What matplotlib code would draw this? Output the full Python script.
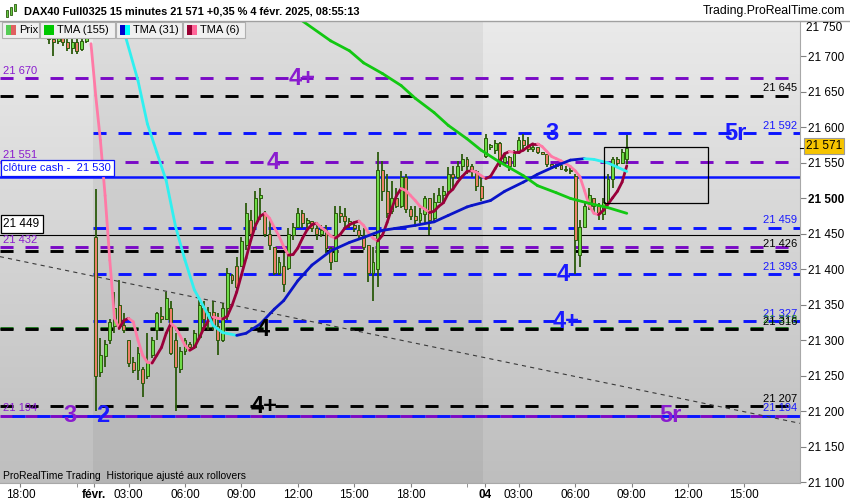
import numpy as np
import matplotlib.pyplot as plt
from matplotlib.collections import LineCollection
from matplotlib.patches import Rectangle
from matplotlib.lines import Line2D

plt.rcParams['font.family'] = ['Liberation Sans', 'DejaVu Sans']
plt.rcParams['lines.scale_dashes'] = False

# DAX40 Full0325, bougies 15 minutes, barre 0 = ven. 31/01 18:00
jan31_open = [21760, 21755, 21750, 21745, 21740, 21735, 21730, 21725, 21722, 21730, 21720, 21712, 21720, 21710, 21722, 21730]
jan31_high = [21770, 21765, 21760, 21758, 21752, 21748, 21742, 21735, 21738, 21740, 21732, 21730, 21728, 21735, 21745, 21748]
jan31_low = [21748, 21745, 21738, 21735, 21730, 21728, 21718, 21701, 21717, 21715, 21708, 21704, 21704, 21708, 21719, 21728]
jan31_close = [21755, 21750, 21745, 21740, 21735, 21730, 21725, 21720, 21728, 21720, 21712, 21720, 21708, 21722, 21730, 21735]

feb03_open = [21445, 21255, 21278, 21300, 21320, 21350, 21322, 21300, 21270, 21258, 21260, 21250, 21280, 21314, 21335, 21330,
              21345, 21300, 21260, 21285, 21295, 21290, 21305, 21345, 21330, 21340, 21320, 21300, 21345, 21392, 21405, 21405,
              21435, 21470, 21465, 21500, 21478, 21450, 21431, 21395, 21405, 21402, 21448, 21460, 21480, 21465, 21468, 21458,
              21450, 21455, 21430, 21412, 21480, 21475, 21468, 21462, 21456, 21448, 21434, 21395, 21400, 21540, 21510, 21482,
              21500, 21490, 21530, 21485, 21475, 21470, 21478, 21500, 21472, 21495, 21505, 21510, 21535, 21530, 21545, 21555,
              21545, 21538, 21518]
feb03_high = [21513, 21304, 21300, 21330, 21368, 21385, 21338, 21300, 21276, 21290, 21262, 21310, 21305, 21340, 21347, 21368,
              21356, 21310, 21290, 21304, 21298, 21314, 21357, 21356, 21347, 21356, 21338, 21352, 21402, 21394, 21417, 21445,
              21494, 21483, 21511, 21514, 21482, 21469, 21431, 21417, 21423, 21458, 21466, 21486, 21483, 21473, 21468, 21465,
              21462, 21462, 21432, 21490, 21490, 21486, 21472, 21466, 21462, 21458, 21434, 21431, 21565, 21553, 21535, 21525,
              21515, 21539, 21535, 21490, 21490, 21487, 21504, 21500, 21507, 21514, 21518, 21544, 21546, 21553, 21563, 21558,
              21549, 21540, 21530]
feb03_low = [21200, 21248, 21262, 21295, 21311, 21314, 21310, 21262, 21254, 21244, 21220, 21246, 21275, 21300, 21325, 21328,
             21280, 21200, 21254, 21280, 21285, 21288, 21300, 21318, 21314, 21314, 21279, 21298, 21328, 21380, 21371, 21403,
             21427, 21445, 21455, 21469, 21445, 21427, 21392, 21392, 21368, 21399, 21441, 21458, 21459, 21458, 21452, 21441,
             21445, 21423, 21399, 21410, 21465, 21458, 21459, 21452, 21441, 21427, 21382, 21356, 21375, 21497, 21473, 21478,
             21487, 21487, 21479, 21469, 21462, 21465, 21465, 21448, 21468, 21493, 21494, 21508, 21515, 21528, 21539, 21535,
             21530, 21511, 21497]
feb03_close = [21250, 21280, 21295, 21326, 21345, 21320, 21315, 21268, 21258, 21282, 21240, 21270, 21300, 21338, 21330, 21360,
               21282, 21262, 21285, 21300, 21290, 21310, 21350, 21330, 21340, 21320, 21300, 21345, 21395, 21385, 21375, 21440,
               21480, 21450, 21500, 21505, 21450, 21435, 21395, 21410, 21380, 21450, 21460, 21480, 21465, 21470, 21458, 21450,
               21455, 21430, 21410, 21480, 21475, 21468, 21465, 21458, 21448, 21432, 21395, 21410, 21540, 21510, 21480, 21500,
               21490, 21530, 21485, 21475, 21470, 21480, 21500, 21470, 21495, 21505, 21510, 21535, 21530, 21545, 21555, 21545,
               21538, 21518, 21500]

feb04_open = [21560, 21572, 21568, 21578, 21552, 21558, 21546, 21565, 21582, 21575, 21570, 21572, 21566, 21563, 21548, 21545,
              21547, 21542, 21540, 21532, 21420, 21460, 21490, 21500, 21490, 21478, 21495, 21528, 21555, 21550, 21555]
feb04_high = [21591, 21577, 21582, 21580, 21563, 21560, 21568, 21587, 21591, 21587, 21577, 21572, 21566, 21563, 21549, 21549,
              21549, 21546, 21544, 21534, 21469, 21497, 21515, 21501, 21493, 21501, 21535, 21558, 21558, 21570, 21589]
feb04_low = [21557, 21568, 21563, 21544, 21549, 21539, 21546, 21563, 21570, 21566, 21566, 21563, 21563, 21544, 21542, 21542,
             21540, 21537, 21535, 21394, 21403, 21459, 21483, 21479, 21469, 21469, 21493, 21515, 21544, 21549, 21549]
feb04_close = [21585, 21575, 21578, 21550, 21558, 21545, 21565, 21582, 21575, 21570, 21572, 21566, 21563, 21548, 21545, 21547,
               21542, 21540, 21538, 21441, 21460, 21490, 21505, 21490, 21480, 21495, 21528, 21555, 21550, 21565, 21571]

# moyennes triangulaires
tma6_first_bar = 15
tma6_vals = [21718, 21645, 21582, 21504, 21413, 21331, 21317, 21328, 21331, 21326, 21300, 21279, 21269, 21268, 21279, 21290,
             21310, 21324, 21318, 21306, 21293, 21286, 21290, 21303, 21317, 21328, 21333, 21331, 21330, 21334, 21349, 21368,
             21392, 21416, 21441, 21462, 21475, 21479, 21472, 21459, 21447, 21432, 21420, 21421, 21430, 21444, 21456, 21463,
             21465, 21459, 21454, 21447, 21444, 21449, 21458, 21463, 21466, 21468, 21462, 21452, 21444, 21440, 21448, 21466,
             21486, 21504, 21514, 21511, 21504, 21497, 21489, 21485, 21480, 21482, 21489, 21494, 21507, 21513, 21523, 21531,
             21538, 21539, 21537, 21532, 21528, 21531, 21542, 21553, 21563, 21566, 21565, 21565, 21568, 21573, 21577, 21577,
             21573, 21566, 21559, 21556, 21553, 21549, 21545, 21539, 21531, 21511, 21490, 21479, 21477, 21483, 21492, 21501,
             21510, 21523, 21546]
tma31_bars = [21, 22, 25, 27, 29, 31, 33, 35, 37, 38, 40, 41, 43, 46, 48, 51, 54, 56, 59, 62, 66, 70, 73, 77, 81, 84, 88,
              91, 95, 96, 100, 103, 107, 110, 114, 117, 120, 122, 125, 127, 129]
tma31_vals = [21750, 21736, 21666, 21605, 21565, 21525, 21460, 21413, 21371, 21359, 21335, 21321, 21311, 21307, 21310, 21323,
              21344, 21356, 21384, 21406, 21426, 21438, 21445, 21455, 21459, 21462, 21467, 21476, 21488, 21490, 21497, 21510,
              21523, 21534, 21546, 21554, 21556, 21555, 21550, 21544, 21538]
tma155_bars = [60, 66, 70, 73, 77, 81, 84, 88, 91, 95, 98, 102, 107, 110, 114, 117, 121, 125, 129]
tma155_vals = [21750, 21722, 21708, 21691, 21676, 21659, 21641, 21621, 21603, 21584, 21568, 21551, 21532, 21518, 21508,
               21500, 21493, 21487, 21479]

# niveaux horizontaux
levels = [21670, 21645, 21592, 21551, 21459, 21432, 21426, 21393, 21327, 21318, 21316, 21207, 21194, 21194]
level_kind = ['v', 'k', 'b', 'v', 'b', 'v', 'k', 'b', 'b', 'g', 'k', 'k', 'v', 'b']
cash_close = 21530
day_ref = 21449
last_price = 21571

# vagues
wave_bars = [59.9, 53.7, 113, 152.2, 115.4, 116, 51.6, 51.8, 10.5, 17.6, 138.2]
wave_levels = [21670, 21551, 21592, 21592, 21393, 21327, 21316, 21207, 21194, 21194, 21194]
wave_text = ['4+', '4', '3', '5r', '4', '4+', '4', '4+', '3', '2', '5r']
wave_kind = ['v', 'v', 'b', 'b', 'b', 'b', 'k', 'k', 'v', 'b', 'v']

trend_bars = [-4.4, 165.9]
trend_prices = [21418, 21183]
box_bars = [124.1, 146.3]
box_prices = [21493, 21573]

tick_bars = [0, 15.7, 23, 35, 47, 59, 71, 83, 98.8, 106, 118, 130, 142, 154]
tick_text = ['18:00', 'févr.', '03:00', '06:00', '09:00', '12:00', '15:00', '18:00', '04', '03:00', '06:00', '09:00', '12:00', '15:00']
minor_bars = [12, 95]

colors = {'v': '#7a0ac6', 'k': '#000000', 'b': '#0a14ff', 'g': '#1f7a1f'}
label_colors = {'v': '#8a1ccf', 'k': '#000000', 'b': '#1a1aff', 'g': '#1f8a1f'}

opens = np.array(jan31_open + feb03_open + feb04_open, float)
highs = np.array(jan31_high + feb03_high + feb04_high, float)
lows = np.array(jan31_low + feb03_low + feb04_low, float)
closes = np.array(jan31_close + feb03_close + feb04_close, float)
bars = np.arange(len(opens))
feb03_start = len(jan31_open) - 0.5
feb04_start = len(jan31_open) + len(feb03_open) - 0.5


def fmt(v):
    return f"{int(round(v)):,}".replace(',', ' ')


def fpx(x, y):
    return x / 850, 1 - y / 500


fig = plt.figure(figsize=(8.5, 5), dpi=100)
ax = fig.add_axes([0, 17 / 500, 800 / 850, 462 / 500])
x0, x1 = -4.36, 165.85

# fond degrade + journee du 3 plus sombre
grad = np.linspace(0.918, 0.745, 256)[:, None]
ax.imshow(np.dstack([grad, grad, grad]), extent=[0, 1, 0, 1], transform=ax.transAxes,
          aspect='auto', zorder=0, interpolation='bilinear')
ax.axvspan(feb03_start, feb04_start, color='black', alpha=0.05, lw=0, zorder=0.5)
ax.set_xlim(x0, x1)
ax.set_ylim(21099, 21749)

# niveaux
dash = (0, (9.4, 8.6))
for lv, k in zip(levels, level_kind):
    start = x0 if k in ('v', 'k', 'g') else feb03_start
    style = dash
    if k == 'b' and lv == 21194:
        start, style = x0, (9.4, (9.4, 8.6))
    ax.hlines(lv, start, x1, colors=colors[k], linestyles=[style], lw=2.1, zorder=2)
    if k == 'v':
        ax.annotate(fmt(lv), xy=(0, lv), xycoords=ax.get_yaxis_transform(), xytext=(2, 1.5),
                    textcoords='offset points', ha='left', va='bottom', fontsize=8, color=label_colors[k], zorder=6)
    else:
        ax.annotate(fmt(lv), xy=(1, lv), xycoords=ax.get_yaxis_transform(), xytext=(-2, 1.5),
                    textcoords='offset points', ha='right', va='bottom', fontsize=8, color=label_colors[k], zorder=6)

ax.axhline(cash_close, color='#0a14ff', lw=1.8, zorder=2)
ax.axhline(day_ref, color='black', lw=0.8, zorder=2)
ax.plot(trend_bars, trend_prices, color='#3a3a3a', lw=0.8, dashes=(3, 3), zorder=2)
ax.add_patch(Rectangle((box_bars[0], box_prices[0]), box_bars[1] - box_bars[0], box_prices[1] - box_prices[0],
                       fill=False, ec='black', lw=0.9, zorder=5))

ax.annotate('clôture cash -  ' + fmt(cash_close), xy=(0, cash_close), xycoords=ax.get_yaxis_transform(),
            xytext=(2.5, 3), textcoords='offset points', ha='left', va='bottom', fontsize=8, color='#0a14ff',
            bbox=dict(boxstyle='square,pad=0.25', fc='white', ec='#0a14ff', lw=0.9), zorder=7)
ax.annotate(fmt(day_ref), xy=(0, day_ref), xycoords=ax.get_yaxis_transform(),
            xytext=(2.5, 3), textcoords='offset points', ha='left', va='bottom', fontsize=8.5, color='black',
            bbox=dict(boxstyle='square,pad=0.25', fc='white', ec='black', lw=0.9), zorder=7)

# bougies
wick = '#2b5a0c'
up = closes >= opens
ax.vlines(bars, lows, highs, color=wick, lw=1.3, zorder=3)
body_low = np.minimum(opens, closes)
body_h = np.maximum(np.abs(closes - opens), 1.2)
ax.bar(bars, body_h, bottom=body_low, width=0.62, color=np.where(up, '#6edb48', '#ec8068'),
       edgecolor=wick, lw=0.7, zorder=3)


def slope_line(xs, ys, c_up, c_down, lw=2.0):
    pts = np.column_stack([xs, ys])
    segs = np.stack([pts[:-1], pts[1:]], axis=1)
    cols = [c_up if b >= a else c_down for a, b in zip(ys[:-1], ys[1:])]
    ax.add_collection(LineCollection(segs, colors=cols, lw=lw, zorder=4, capstyle='round', joinstyle='round'))


tma6_bars = np.arange(tma6_first_bar, tma6_first_bar + len(tma6_vals))
slope_line(tma6_bars, np.array(tma6_vals, float), '#99003a', '#ff7aa6')
slope_line(np.array(tma31_bars, float), np.array(tma31_vals, float), '#0a14c8', '#2ff0f0')
slope_line(np.array(tma155_bars, float), np.array(tma155_vals, float), '#12c812', '#12c812')

for b, lv, t, k in zip(wave_bars, wave_levels, wave_text, wave_kind):
    ax.annotate(t, xy=(b, lv), xytext=(0, 1.5), textcoords='offset points', ha='center', va='center_baseline',
                fontsize=17, fontweight='bold', color=label_colors[k], zorder=6)

# axes
for s in ['top', 'left']:
    ax.spines[s].set_visible(False)
ax.spines['right'].set_color('#a8a8a8')
ax.spines['bottom'].set_color('#a8a8a8')
yt = np.arange(21100, 21751, 50)
ax.yaxis.tick_right()
ax.set_yticks(yt, [fmt(v) if v != 21750 else '' for v in yt])
for lab, v in zip(ax.get_yticklabels(), yt):
    if v == 21500:
        lab.set_fontweight('bold')
ax.tick_params(axis='y', length=4, color='#808080', labelsize=8.5, pad=2)
ax.set_xticks(tick_bars, tick_text)
ax.set_xticks(minor_bars, minor=True)
for lab, t in zip(ax.get_xticklabels(), tick_text):
    if t in ('févr.', '04'):
        lab.set_fontweight('bold')
ax.tick_params(axis='x', which='both', length=3, color='#808080', labelsize=8.5, pad=1.5)

fig.text(*fpx(806, 28), '21 750', ha='left', va='center', fontsize=8.5)
fig.text(*fpx(806, 146), fmt(last_price), ha='left', va='center', fontsize=8.5,
         bbox=dict(boxstyle='square,pad=0.15', fc='#f6c400', ec='#9a9a9a', lw=0.8))
yp = ax.transData.transform((0, last_price))[1] / 500
fig.add_artist(Line2D([800 / 850, 804 / 850], [yp, yp], color='black', lw=0.8))

# entete
fig.add_artist(Line2D([0, 1], [1 - 20.5 / 500] * 2, color='#a0a0a0', lw=1))
fig.text(*fpx(24, 11), 'DAX40 Full0325 15 minutes 21 571 +0,35 % 4 févr. 2025, 08:55:13',
         ha='left', va='center', fontsize=7.9, fontweight='bold')
fig.text(*fpx(845, 11), 'Trading.ProRealTime.com', ha='right', va='center', fontsize=8.8)
for cx, cy0, cy1 in [(7, 10, 17), (11, 7, 15), (15, 4, 11)]:
    fig.add_artist(Rectangle(fpx(cx - 1.3, cy1), 2.6 / 850, (cy1 - cy0) / 500, fc='#66cc44', ec='#2b5a0c', lw=0.6))
fig.text(*fpx(3, 476), 'ProRealTime Trading  Historique ajusté aux rollovers', ha='left', va='center', fontsize=7.5)

# legende
legend = [('Prix', 2, 39, ['#55cc55', '#e06060']), ('TMA (155)', 40, 115, ['#00c800', '#00c800']),
          ('TMA (31)', 116, 182, ['#0000cc', '#00ffff']), ('TMA (6)', 183, 245, ['#990033', '#ff6699'])]
for name, xa, xb, sw in legend:
    fig.add_artist(Rectangle(fpx(xa, 38), (xb - xa) / 850, 16 / 500, fc='#f0f0f0', ec='#b0b0b0', lw=0.8))
    fig.add_artist(Rectangle(fpx(xa + 4, 35), 5 / 850, 10 / 500, fc=sw[0], ec='none'))
    fig.add_artist(Rectangle(fpx(xa + 9, 35), 5 / 850, 10 / 500, fc=sw[1], ec='none'))
    fig.text(*fpx(xa + 17, 30), name, ha='left', va='center', fontsize=8)

fig.savefig('out.png', dpi=100)
